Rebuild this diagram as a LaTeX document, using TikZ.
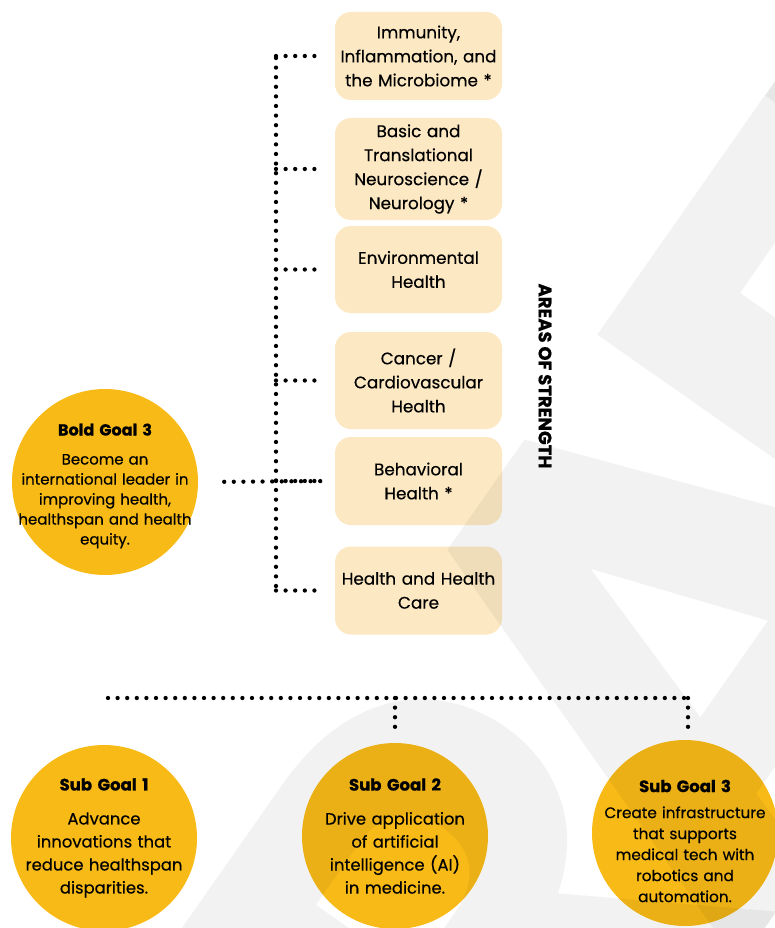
\documentclass[tikz,border=0pt]{standalone}
\usepackage{fontspec}
\setmainfont{Poppins}[UprightFeatures={FakeBold=0.4},BoldFeatures={FakeBold=0.8}]
\newfontfamily\wmfont{Poppins}
\definecolor{goldcol}{HTML}{F8BA17}
\definecolor{areacol}{HTML}{FCE8C2}

\begin{document}
\begin{tikzpicture}[x=1pt,y=1pt]
    \tikzstyle{area}=[fill=areacol,rounded corners=16pt,minimum width=167pt,text width=165pt,align=center,inner sep=0pt,font=\fontsize{16.8}{24}\selectfont]
    \tikzstyle{goal}=[circle,fill=goldcol,minimum size=186pt,inner sep=0pt]
    \tikzstyle{goaltext}=[text width=178pt,align=center,inner sep=0pt,font=\fontsize{15}{20}\selectfont]
    \tikzstyle{subtext}=[text width=182pt,align=center,inner sep=0pt,font=\fontsize{16.4}{23}\selectfont]
    \tikzstyle{dotline}=[line width=4.3pt,line cap=round,dash pattern=on 0pt off 9.6pt]
    \tikzstyle{wmark}=[anchor=base,inner sep=0pt,text=black,text opacity=0.05,font=\wmfont\fontsize{680}{680}\selectfont\bfseries]

    \useasboundingbox (0,0) rectangle (775,-928);
    \clip (0,0) rectangle (775,-928);

    % areas of strength
    \node[area,minimum height=88pt]  (immune) at (418.5,-56) {Immunity,\\ Inflammation, and\\ the Microbiome *};
    \node[area,minimum height=102pt] (neuro) at (418.5,-169) {Basic and\\ Translational\\ Neuroscience /\\ Neurology *};
    \node[area,minimum height=87pt]  (envhealth) at (418.5,-269.5) {Environmental\\ Health};
    \node[area,minimum height=97pt]  (cancer) at (418.5,-380.5) {Cancer /\\ Cardiovascular\\ Health};
    \node[area,minimum height=88pt]  (behave) at (418.5,-481) {Behavioral\\ Health *};
    \node[area,minimum height=88pt]  (care) at (418.5,-590.5) {Health and Health\\ Care};
    \node[rotate=-90,font=\fontsize{18}{18}\selectfont\bfseries] (areas) at (545,-376) {AREAS OF STRENGTH};

    % goals
    \node[goal,label={[goaltext,yshift=-4pt]center:{{\fontsize{16}{20}\selectfont\bfseries Bold Goal 3}\\[9pt]Become an\\ international leader in\\ improving health,\\ healthspan and health\\ equity.}}] (boldgoal) at (105,-482) {};
    \node[goal,label={[subtext]center:{{\fontsize{16.5}{22}\selectfont\bfseries Sub Goal 1}\\[11pt]Advance\\ innovations that\\ reduce healthspan\\ disparities.}}] (subone) at (104,-838) {};
    \node[goal,label={[subtext]center:{{\fontsize{16.5}{22}\selectfont\bfseries Sub Goal 2}\\[11pt]Drive application\\ of artificial\\ intelligence (AI)\\ in medicine.}}] (subtwo) at (395,-836) {};
    \node[goal,label={[subtext,yshift=-8pt,font=\fontsize{15.3}{21}\selectfont]center:{{\fontsize{16.5}{22}\selectfont\bfseries Sub Goal 3}\\[5pt]Create infrastructure\\ that supports\\ medical tech with\\ robotics and\\ automation.}}] (subthree) at (685,-833) {};

    \coordinate (spinetop) at (276,-58);
    \coordinate (spinebot) at (276,-593);
    \coordinate (busleft) at (108,-698);
    \coordinate (busright) at (688,-698);

          \draw [dotline] (spinetop) -- (spinebot);
          \foreach \n in {immune,neuro,envhealth,cancer,behave,care}
              \draw [dotline,shorten >=15pt] (spinetop |- \n.west) -- (\n.west);
          \draw [dotline,shorten <=26pt,shorten >=14pt] (boldgoal.east) -- (behave.west);
          \draw [dotline] (busleft) -- (busright);
          \draw [dotline,shorten >=9pt] (busleft -| subtwo.north) -- (subtwo.north);
          \draw [dotline,shorten >=8pt] (busright) -- (busright |- subthree.north);

    % watermark
    \begin{scope}[shift={(487,-496)},rotate=55,transform shape]
        \foreach \ch/\xx in {D/-820,R/-370,A/0,F/339,T/672}
            \node[wmark] (wm\ch) at (\xx,-476) {\ch};
    \end{scope}
\end{tikzpicture}
\end{document}
